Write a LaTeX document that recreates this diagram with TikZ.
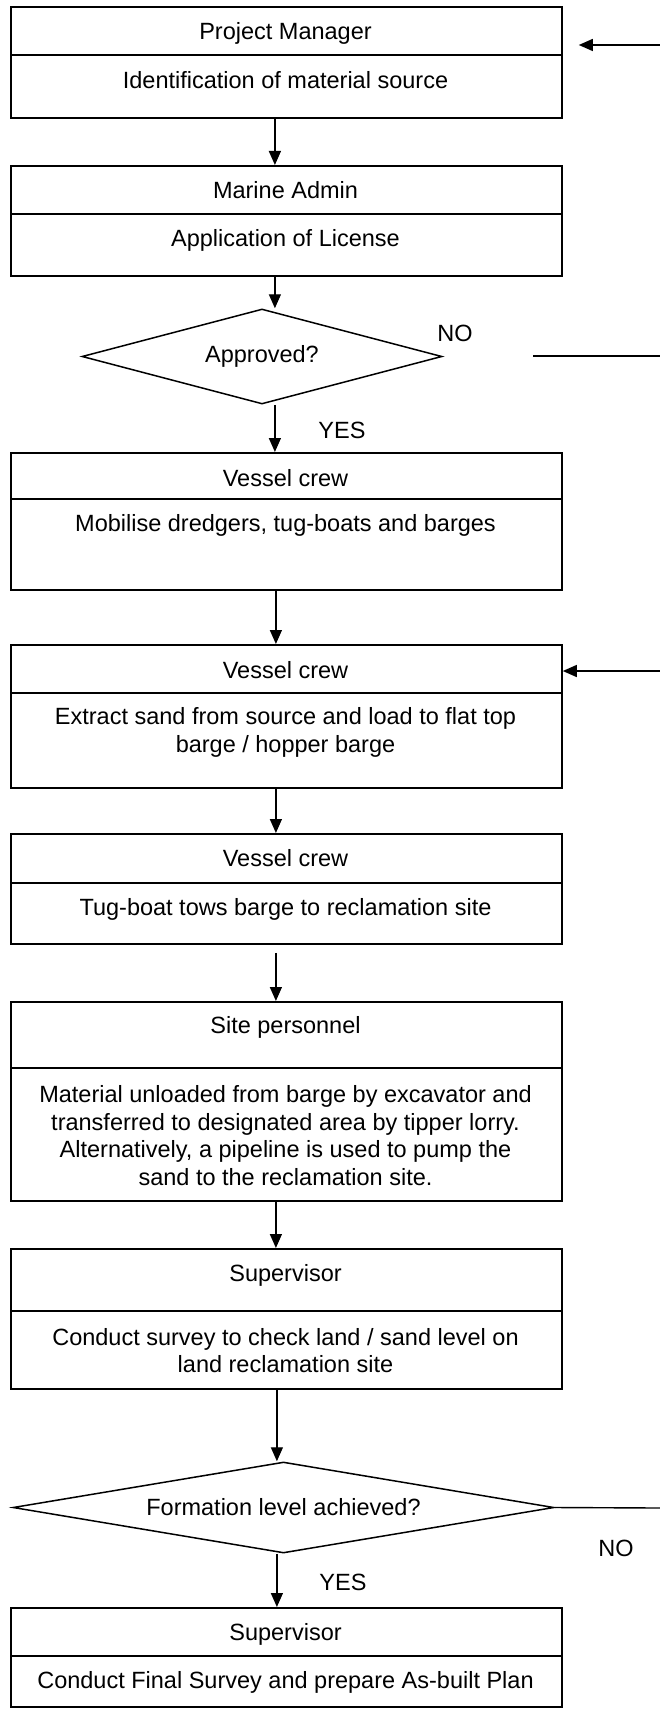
\documentclass[tikz,border=0pt]{standalone}
\usepackage{fontspec}
\setmainfont{Liberation Sans}
\usetikzlibrary{arrows.meta,shapes.geometric}
\begin{document}
\begin{tikzpicture}[x=1pt,y=-1pt,
  every node/.style={font=\fontsize{23.5}{27.5}\selectfont},
  cell/.style={draw, line width=1.8pt, rectangle, minimum width=551pt,
               inner sep=0pt, anchor=north west},
  txt/.style={inner sep=0pt, anchor=base},
  para/.style={inner sep=0pt, align=center, anchor=center},
  decision/.style={draw, diamond, line width=1.5pt, inner sep=0pt, aspect=6},
  flow/.style={-{Triangle[length=14pt,width=12pt]}, line width=1.4pt},
  plain/.style={line width=1.4pt}]

% page area
\fill[white] (0,0) rectangle (660,1712);
\useasboundingbox (0,0) rectangle (660,1712);

% ---- boxes: header cell + task cell ----
\node[cell, minimum height=48pt] (h1) at (10,6) {};
\node[cell, minimum height=63pt] (b1) at (10,54) {};
\node[txt] (t1) at (285.5,39.5) {Project Manager};
\node[txt] (s1) at (285.5,88.5) {Identification of material source};

\node[cell, minimum height=48pt] (h2) at (10,165) {};
\node[cell, minimum height=62pt] (b2) at (10,213) {};
\node[txt] (t2) at (285.5,198.5) {Marine Admin};
\node[txt] (s2) at (285.5,246.5) {Application of License};

\node[decision, minimum width=360pt, minimum height=95pt] (d1) at (262,356.5) {Approved?};

\node[cell, minimum height=46pt] (h3) at (10,452) {};
\node[cell, minimum height=91pt] (b3) at (10,498) {};
\node[txt] (t3) at (285.5,486.5) {Vessel crew};
\node[txt] (s3) at (285.5,531.5) {Mobilise dredgers, tug-boats and barges};

\node[cell, minimum height=48pt] (h4) at (10,644) {};
\node[cell, minimum height=95pt] (b4) at (10,692) {};
\node[txt] (t4) at (285.5,678.5) {Vessel crew};
\node[para] (s4) at (285.5,732.5) {Extract sand from source and load to flat top\\barge / hopper barge};

\node[cell, minimum height=49pt] (h5) at (10,833) {};
\node[cell, minimum height=61pt] (b5) at (10,882) {};
\node[txt] (t5) at (285.5,866.5) {Vessel crew};
\node[txt] (s5) at (285.5,915.5) {Tug-boat tows barge to reclamation site};

\node[cell, minimum height=66pt] (h6) at (10,1001) {};
\node[cell, minimum height=133pt] (b6) at (10,1067) {};
\node[txt] (t6) at (285.5,1033.5) {Site personnel};
\node[para] (s6) at (285.5,1135.5) {Material unloaded from barge by excavator and\\transferred to designated area by tipper lorry.\\Alternatively, a pipeline is used to pump the\\sand to the reclamation site.};

\node[cell, minimum height=62pt] (h7) at (10,1248) {};
\node[cell, minimum height=78pt] (b7) at (10,1310) {};
\node[txt] (t7) at (285.5,1281.5) {Supervisor};
\node[para] (s7) at (285.5,1350.5) {Conduct survey to check land / sand level on\\land reclamation site};

\node[decision, minimum width=541pt, minimum height=91pt] (d2) at (283.5,1507.5) {Formation level achieved?};

\node[cell, minimum height=48pt] (h8) at (10,1607) {};
\node[cell, minimum height=51pt] (b8) at (10,1655) {};
\node[txt] (t8) at (285.5,1640.5) {Supervisor};
\node[txt] (s8) at (285.5,1688.5) {Conduct Final Survey and prepare As-built Plan};

% ---- branch labels ----
\node[txt] (no1) at (455,341.5) {NO};
\node[txt] (yes1) at (342,438.5) {YES};
\node[txt] (no2) at (616,1556.5) {NO};
\node[txt] (yes2) at (343,1590.5) {YES};

% ---- main flow ----
\draw[flow] ([xshift=-11.5pt]b1.south) -- ([xshift=-11.5pt]h2.north);
\draw[flow] ([xshift=-11.5pt]b2.south) -- ([xshift=-11.5pt]b2.south |- d1.north);
\draw[flow] ([xshift=-11.5pt]h3.north |- d1.south) -- ([xshift=-11.5pt]h3.north);
\draw[flow] ([xshift=-10.5pt]b3.south) -- ([xshift=-10.5pt]h4.north);
\draw[flow] ([xshift=-10.5pt]b4.south) -- ([xshift=-10.5pt]h5.north);
\draw[flow] ([xshift=-10.5pt,yshift=-8pt]b5.south) -- ([xshift=-10.5pt]h6.north);
\draw[flow] ([xshift=-10.5pt]b6.south) -- ([xshift=-10.5pt]h7.north);
\draw[flow] ([xshift=-9.5pt]b7.south) -- ([xshift=-9.5pt]b7.south |- d2.north);
\draw[flow] ([xshift=-9.5pt]h8.north |- d2.south) -- ([xshift=-9.5pt]h8.north);

% ---- return lines at the right edge ----
\coordinate (r1) at (660,45);
\coordinate (r2) at (660,356);
\coordinate (r3) at (660,671);
\coordinate (r4) at (660,1508);
\draw[flow, shorten >=16pt] (r1) -- (r1 -| h1.east);
\draw[plain, shorten >=90pt] (r2) -- (r2 -| d1.east);
\draw[flow] (r3) -- (r3 -| h4.east);
\draw[plain] (d2.east) -- (r4);

\end{tikzpicture}
\end{document}
